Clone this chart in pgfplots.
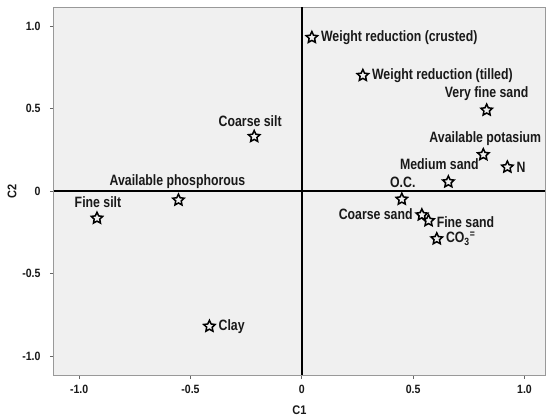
\documentclass[border=0pt]{standalone}
\usepackage{pgfplots}
\pgfplotsset{compat=1.18}
\usepackage{fontspec}
\setmainfont{Liberation Sans}
\newfontfamily\lbl{Liberation Sans Bold}[FakeStretch=0.82]
\newfontfamily\tckf{Liberation Sans Bold}[FakeStretch=0.88]
\pgfdeclareplotmark{ostar}{%
  \pgfpathmoveto{\pgfpointpolar{90}{\pgfplotmarksize}}%
  \pgfpathlineto{\pgfpointpolar{126}{0.48\pgfplotmarksize}}%
  \pgfpathlineto{\pgfpointpolar{162}{\pgfplotmarksize}}%
  \pgfpathlineto{\pgfpointpolar{198}{0.48\pgfplotmarksize}}%
  \pgfpathlineto{\pgfpointpolar{234}{\pgfplotmarksize}}%
  \pgfpathlineto{\pgfpointpolar{270}{0.48\pgfplotmarksize}}%
  \pgfpathlineto{\pgfpointpolar{306}{\pgfplotmarksize}}%
  \pgfpathlineto{\pgfpointpolar{342}{0.48\pgfplotmarksize}}%
  \pgfpathlineto{\pgfpointpolar{18}{\pgfplotmarksize}}%
  \pgfpathlineto{\pgfpointpolar{54}{0.48\pgfplotmarksize}}%
  \pgfpathclose\pgfusepathqstroke}
\begin{document}
\begin{tikzpicture}
\useasboundingbox (-54pt,-41pt) rectangle (492pt,375pt);
\begin{axis}[
  at={(0pt,0pt)}, anchor=south west,
  scale only axis, width=491pt, height=368pt,
  xmin=-1.113, xmax=1.092, ymin=-1.115, ymax=1.115,
  axis background/.style={fill=gray!12},
  axis line style={draw=gray!80, line width=1pt},
  tick pos=left, tick align=outside, major tick length=4pt,
  tick style={gray!80!black, line width=0.8pt},
  xtick={-1,-0.5,0,0.5,1}, xticklabels={-1.0,-0.5,0,0.5,1.0},
  ytick={-1,-0.5,0,0.5,1}, yticklabels={-1.0,-0.5,0,0.5,1.0},
  ticklabel style={font=\tckf\fontsize{12}{13}\selectfont, text=black!90},
  xticklabel style={yshift=-3pt},
  yticklabel style={xshift=-6pt},
  xlabel={C1}, ylabel={C2},
  label style={font=\tckf\fontsize{12.5}{13}\selectfont, text=black!90},
  xlabel style={at={(axis description cs:0.5,0)}, anchor=center, yshift=-35pt},
  ylabel style={at={(axis description cs:0,0.5)}, anchor=center, yshift=42pt},
  clip=false,
  every axis plot/.append style={only marks, mark=ostar, mark size=6pt, black, line width=1.5pt,
    mark options={solid}},
  nodes near coords style={font=\lbl\fontsize{15}{16}\selectfont, text=black!90, inner sep=1pt},
]
\draw[black, line width=2.2pt] (axis cs:0,-1.115) -- (axis cs:0,1.115);
\draw[black, line width=2.2pt] (axis cs:-1.113,0) -- (axis cs:1.092,0);

\addplot[nodes near coords={Weight reduction (crusted)}, nodes near coords style={anchor=west, xshift=7.5pt, yshift=0pt}] coordinates {(0.045,0.93)};
\addplot[nodes near coords={Weight reduction (tilled)}, nodes near coords style={anchor=west, xshift=7.5pt, yshift=0pt}] coordinates {(0.274,0.70)};
\addplot[nodes near coords={Very fine sand}, nodes near coords style={anchor=center, xshift=0pt, yshift=17pt}] coordinates {(0.83,0.49)};
\addplot[nodes near coords={Available potasium}, nodes near coords style={anchor=center, xshift=2pt, yshift=16pt}] coordinates {(0.815,0.22)};
\addplot[nodes near coords={N}, nodes near coords style={anchor=west, xshift=7.5pt, yshift=0pt}] coordinates {(0.923,0.145)};
\addplot[nodes near coords={Medium sand}, nodes near coords style={anchor=center, xshift=-9pt, yshift=18pt}] coordinates {(0.658,0.055)};
\addplot[nodes near coords={O.C.}, nodes near coords style={anchor=center, xshift=1pt, yshift=17pt}] coordinates {(0.449,-0.05)};
\addplot[nodes near coords={Coarse sand}, nodes near coords style={anchor=east, xshift=-7.5pt, yshift=1pt}] coordinates {(0.539,-0.145)};
\addplot[nodes near coords={Fine sand}, nodes near coords style={anchor=west, xshift=6.5pt, yshift=-1pt}] coordinates {(0.569,-0.18)};
\addplot[nodes near coords={CO\textsubscript{3}\textsuperscript{=}}, nodes near coords style={anchor=west, xshift=7.5pt, yshift=0pt}] coordinates {(0.606,-0.29)};
\addplot[nodes near coords={Coarse silt}, nodes near coords style={anchor=center, xshift=-4pt, yshift=15pt}] coordinates {(-0.214,0.33)};
\addplot[nodes near coords={Available phosphorous}, nodes near coords style={anchor=center, xshift=-1pt, yshift=18pt}] coordinates {(-0.554,-0.055)};
\addplot[nodes near coords={Fine silt}, nodes near coords style={anchor=center, xshift=1pt, yshift=16.5pt}] coordinates {(-0.92,-0.165)};
\addplot[nodes near coords={Clay}, nodes near coords style={anchor=west, xshift=7.5pt, yshift=0pt}] coordinates {(-0.415,-0.82)};
\end{axis}
\end{tikzpicture}
\end{document}
